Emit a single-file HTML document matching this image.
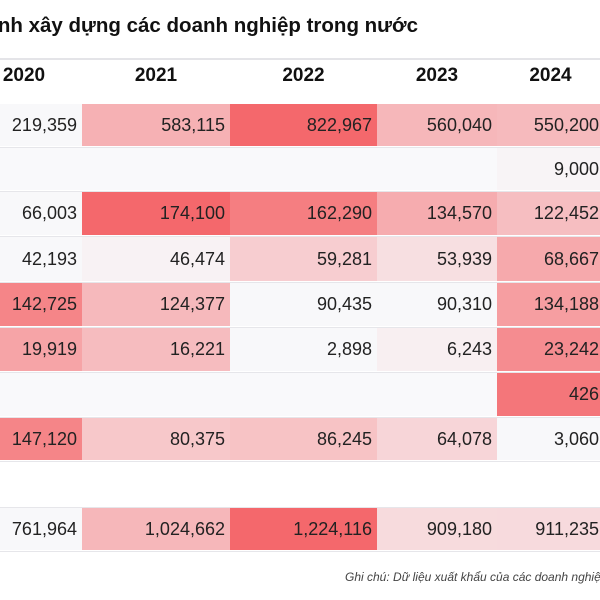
<!DOCTYPE html>
<html><head><meta charset="utf-8">
<style>
body{margin:0;width:600px;height:600px;overflow:hidden;background:#fff;font-family:"Liberation Sans",sans-serif}
#wrap{position:relative;width:600px;height:600px;overflow:hidden}
.abs{position:absolute}
.cell{position:absolute;box-sizing:border-box;text-align:right;padding-right:5px;font-size:18px;color:#222;white-space:nowrap;overflow:hidden}
.hd{position:absolute;font-weight:bold;font-size:19px;color:#111;text-align:center;white-space:nowrap}
.line{position:absolute;left:0;width:600px;height:1px;background:#e6e6ea}
</style></head><body>
<div id="wrap">
<div class="abs" style="right:182px;top:14px;font-weight:bold;font-size:20.5px;color:#111;white-space:nowrap;">Doanh thu kinh doanh xây dựng các doanh nghiệp trong nước</div>
<div class="line" style="top:58px;height:2px;background:#e4e4e8"></div>
<div id="tbl"></div>
<div class="abs" style="left:345px;top:570px;font-size:12px;font-style:italic;color:#444;white-space:nowrap;">Ghi chú: Dữ liệu xuất khẩu của các doanh nghiệp</div>
</div>
<script>
const years=["2020","2021","2022","2023","2024"];
const row1=[219359,583115,822967,560040,550200];
const row2=[null,null,null,null,9000];
const row3=[66003,174100,162290,134570,122452];
const row4=[42193,46474,59281,53939,68667];
const row5=[142725,124377,90435,90310,134188];
const row6=[19919,16221,2898,6243,23242];
const row7=[null,null,null,null,426];
const row8=[147120,80375,86245,64078,3060];
const row9=[null,null,null,null,null];
const total=[761964,1024662,1224116,909180,911235];
const singleT=[0,0.03,0,0,0,0,0.9,0,0,0];
const rowPeak=[1,1,1,0.55,0.8,0.75,1,0.8,1,1];
const rows=[row1,row2,row3,row4,row5,row6,row7,row8,row9,total];
const colX=[-34,82,230,377,497,604];
const rowY=[104,148,192,237,283,328,373,418,462,508,552];
const tbl=document.getElementById('tbl');
function color(t){const a=[248,248,250],b=[244,104,108];return 'rgb('+a.map((v,i)=>Math.round(v+(b[i]-v)*t)).join(',')+')';}
function fmt(v){return v.toLocaleString('en-US');}
years.forEach((y,j)=>{
 const h=document.createElement('div');h.className='hd';
 
 
 h.style.left=colX[j]+'px';h.style.width=(colX[j+1]-colX[j])+'px';h.style.top='65px';h.textContent=y;
 tbl.appendChild(h);
});
rows.forEach((r,i)=>{
 const vals=r.filter(v=>v!==null);
 const mn=Math.min(...vals),mx=Math.max(...vals);
 const ln=document.createElement('div');ln.className='line';
 
 
 ln.style.top=(rowY[i+1]-1)+'px';tbl.appendChild(ln);
 r.forEach((v,j)=>{
  const c=document.createElement('div');c.className='cell';
  
  
  c.style.left=colX[j]+'px';c.style.width=(colX[j+1]-colX[j])+'px';
  c.style.top=rowY[i]+'px';c.style.height=(rowY[i+1]-rowY[i]-2)+'px';
  c.style.lineHeight=(rowY[i+1]-rowY[i]-2)+'px';
  if(vals.length===0){c.style.background='#fff';}
  else if(v===null){c.style.background='#f9f9fb';}
  else{
   let t=mx>mn?(v-mn)/(mx-mn):singleT[i];
   if(mx>mn)t=Math.pow(t,1.4)*rowPeak[i];
   c.style.background=color(t);c.textContent=fmt(v);}
  tbl.appendChild(c);
 });
});
</script>
</body></html>
